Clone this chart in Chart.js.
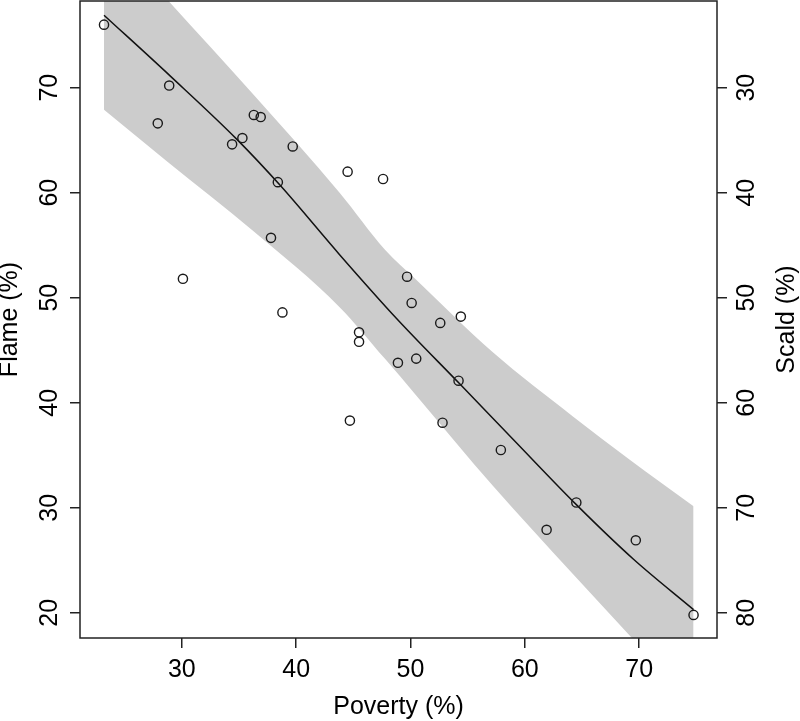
<!DOCTYPE html>
<html>
<head>
<meta charset="utf-8">
<title>Flame / Scald vs Poverty</title>
<script src="https://cdn.jsdelivr.net/npm/chart.js@4"></script>
<style>
    html, body { margin: 0; padding: 0; background: #fff; }
    #wrap { width: 800px; height: 721px; }
</style>
</head>
<body>
<div id="wrap"><canvas id="scatterChart"></canvas></div>
<script>
// observed points (poverty %, flame %)
const povertyX = [23.2, 28.9, 27.9, 36.3, 36.9, 35.3, 34.4, 39.7, 38.4, 44.5,
                  47.6, 37.8, 30.1, 38.8, 49.7, 50.1, 54.4, 52.6, 45.5, 45.5,
                  48.9, 50.5, 54.2, 44.7, 52.8, 57.9, 64.5, 61.9, 69.7, 74.75];
const flameY = [76.0, 70.2, 66.6, 67.4, 67.2, 65.2, 64.6, 64.4, 61.0, 62.0,
                61.3, 55.7, 51.8, 48.6, 52.0, 49.5, 48.2, 47.6, 46.7, 45.8,
                43.8, 44.2, 42.1, 38.3, 38.1, 35.5, 30.5, 27.9, 26.9, 19.8];

// fitted curve
const fitX = [23.2, 29.0, 34.8, 38.6, 43.8, 48.8, 54.3, 58.9, 64.5, 69.5, 74.75];
const fitY = [76.9, 71.1, 65.1, 60.7, 54.1, 48.0, 41.8, 36.6, 30.3, 25.1, 20.3];

// confidence band
const bandX = [23.2, 28.8, 36.3, 43.8, 47.75, 50.5, 57.2, 64.2, 69.2, 74.75];
const bandUpper = [85.0, 78.3, 69.3, 60.0, 54.6, 51.7, 44.8, 38.7, 34.55, 30.15];
const bandLower = [67.9, 62.9, 56.3, 49.1, 44.2, 40.7, 32.1, 23.7, 17.8, 11.1];

// tick labels
const povertyTicks = [30, 40, 50, 60, 70];
const flameTicks = [20, 30, 40, 50, 60, 70];
const scaldTicks = [30, 40, 50, 60, 70, 80];

const FONT = "'Liberation Sans', Arial, sans-serif";

function pairs(xs, ys) {
    return xs.map((x, i) => ({ x: x, y: ys[i] }));
}

// fixed axis sizes, no extra label overflow padding
function fixSize(w, h) {
    return s => {
        if (w) s.width = w;
        if (h) s.height = h;
        s.paddingTop = 0;
        s.paddingBottom = 0;
        s.paddingLeft = 0;
        s.paddingRight = 0;
    };
}

// box around the plot + right axis title (reads bottom to top like the left one)
const frame = {
    id: 'frame',
    afterDraw(chart) {
        const { ctx, chartArea } = chart;
        ctx.save();
        ctx.strokeStyle = '#222';
        ctx.lineWidth = 1.5;
        ctx.strokeRect(chartArea.left, chartArea.top, chartArea.right - chartArea.left, chartArea.bottom - chartArea.top);

        const s = chart.scales.y2;
        ctx.translate(s.right - 13, (chartArea.top + chartArea.bottom) / 2);
        ctx.rotate(-Math.PI / 2);
        ctx.fillStyle = '#000';
        ctx.font = '25px ' + FONT;
        ctx.textAlign = 'center';
        ctx.textBaseline = 'middle';
        ctx.fillText('Scald (%)', 0, 0);
        ctx.restore();
    }
};

const gridOpts = {
    drawOnChartArea: false,
    drawTicks: true,
    tickLength: 10,
    color: '#222',
    lineWidth: 1.5
};

new Chart(document.getElementById('scatterChart'), {
    type: 'scatter',
    data: {
        datasets: [
            {
                label: 'Observed',
                data: pairs(povertyX, flameY),
                pointRadius: 4.6,
                pointBorderWidth: 1.4,
                borderColor: '#1a1a1a',
                backgroundColor: 'rgba(0,0,0,0)',
                pointBackgroundColor: 'rgba(0,0,0,0)'
            },
            {
                label: 'Fit',
                type: 'line',
                data: pairs(fitX, fitY),
                borderColor: '#111',
                borderWidth: 1.5,
                pointRadius: 0,
                cubicInterpolationMode: 'monotone',
                fill: false
            },
            {
                label: 'Upper',
                type: 'line',
                data: pairs(bandX, bandUpper),
                borderColor: 'rgba(0,0,0,0)',
                borderWidth: 0,
                pointRadius: 0,
                cubicInterpolationMode: 'monotone',
                fill: false
            },
            {
                label: 'Lower',
                type: 'line',
                data: pairs(bandX, bandLower),
                borderColor: 'rgba(0,0,0,0)',
                borderWidth: 0,
                pointRadius: 0,
                cubicInterpolationMode: 'monotone',
                backgroundColor: '#cccccc',
                fill: '-1'
            }
        ]
    },
    options: {
        responsive: true,
        maintainAspectRatio: false,
        devicePixelRatio: 1,
        animation: false,
        layout: { autoPadding: false, padding: { top: 1, left: 0, right: 0, bottom: 0 } },
        plugins: {
            legend: { display: false },
            tooltip: { enabled: false }
        },
        scales: {
            x: {
                type: 'linear',
                position: 'bottom',
                min: 21.1,
                max: 76.8,
                afterFit: fixSize(0, 83),
                afterBuildTicks: s => { s.ticks = povertyTicks.map(v => ({ value: v })); },
                border: { display: false },
                grid: gridOpts,
                ticks: {
                    color: '#000',
                    padding: 7,
                    maxRotation: 0,
                    font: { family: FONT, size: 25 }
                },
                title: {
                    display: true,
                    text: 'Poverty (%)',
                    color: '#000',
                    font: { family: FONT, size: 25, lineHeight: 0.8 },
                    padding: { top: 0, bottom: 4 }
                }
            },
            y: {
                type: 'linear',
                position: 'left',
                min: 17.6,
                max: 78.25,
                afterFit: fixSize(80, 0),
                afterBuildTicks: s => { s.ticks = flameTicks.map(v => ({ value: v })); },
                border: { display: false },
                grid: gridOpts,
                ticks: {
                    color: '#000',
                    padding: 6,
                    minRotation: 90,
                    maxRotation: 90,
                    crossAlign: 'center',
                    font: { family: FONT, size: 25 }
                },
                title: {
                    display: true,
                    text: 'Flame (%)',
                    color: '#000',
                    font: { family: FONT, size: 25, lineHeight: 0.8 },
                    padding: { top: 0, bottom: 0 }
                }
            },
            y2: {
                type: 'linear',
                position: 'right',
                reverse: true,
                min: 21.75,
                max: 82.4,
                afterFit: fixSize(83, 0),
                afterBuildTicks: s => { s.ticks = scaldTicks.map(v => ({ value: v })); },
                border: { display: false },
                grid: gridOpts,
                ticks: {
                    color: '#000',
                    padding: 6,
                    minRotation: 90,
                    maxRotation: 90,
                    crossAlign: 'center',
                    font: { family: FONT, size: 25 }
                }
            }
        }
    },
    plugins: [frame]
});
</script>
</body>
</html>
